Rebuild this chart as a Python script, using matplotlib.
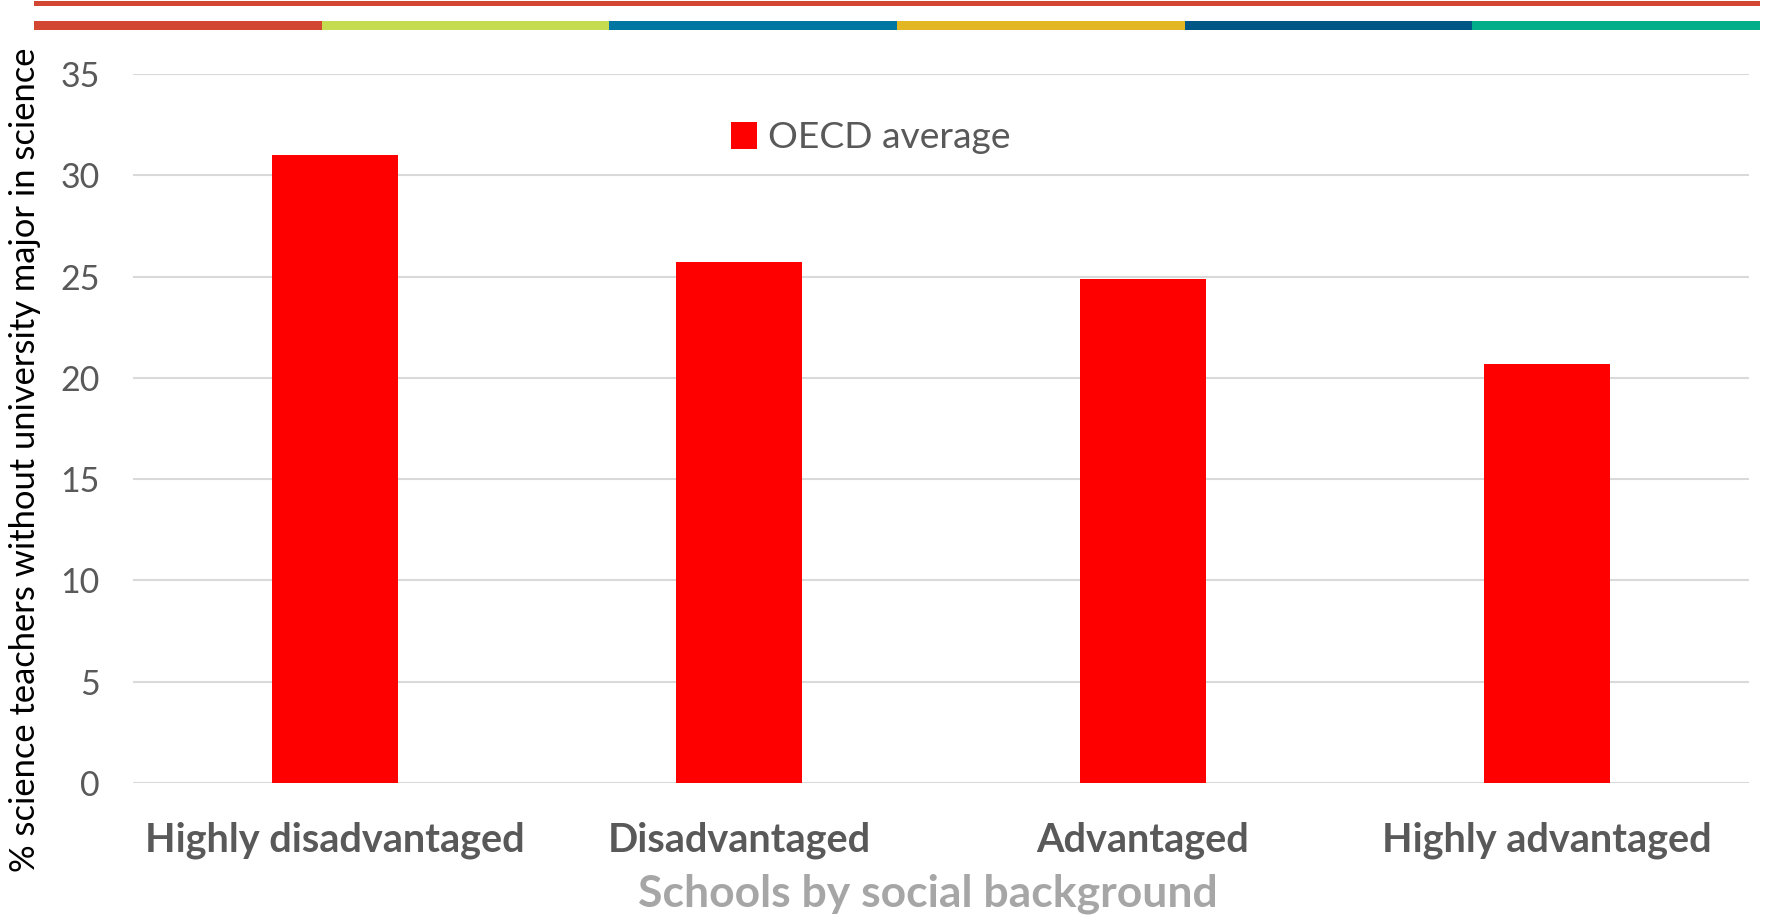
import matplotlib.pyplot as plt
from matplotlib.patches import Rectangle

categories = ['Highly disadvantaged', 'Disadvantaged', 'Advantaged', 'Highly advantaged']
oecd_average = [31.0, 25.7, 24.9, 20.7]
yticks = [0, 5, 10, 15, 20, 25, 30, 35]
strip_colors = ['#D34632', '#C5DB50', '#0077A3', '#E3B723', '#005685', '#00AE8A']

W, H = 1766, 919
plt.rcParams['font.family'] = ['Lato', 'DejaVu Sans']

fig = plt.figure(figsize=(W / 100, H / 100), dpi=100)
ax = fig.add_axes([133 / W, 1 - 783 / H, (1749 - 133) / W, (783 - 74) / H])

xs = range(len(categories))
ax.bar(xs, oecd_average, width=0.31, color='#FF0000', label='OECD average', zorder=3)

ax.set_xlim(-0.5, len(categories) - 0.5)
ax.set_ylim(0, 35)
ax.set_yticks(yticks)
ax.set_xticks(list(xs))
ax.set_xticklabels(categories, fontsize=28.5, fontweight='bold', color='#595959')
ax.tick_params(axis='y', length=0, pad=24, labelsize=24.5, labelcolor='#595959')
ax.tick_params(axis='x', length=0, pad=28)
ax.grid(axis='y', color='#D9D9D9', linewidth=1.5, zorder=0)
for s in ax.spines.values():
    s.set_visible(False)

ax.set_xlabel('Schools by social background', fontsize=32, fontweight='bold',
              color='#A6A6A6', labelpad=10)
ax.xaxis.label.set_x(0.492)

fig.text(25 / W, 1 - 460 / H, '% science teachers without university major in science',
         rotation=90, ha='center', va='center', fontsize=24.8, color='#000000')

leg = ax.legend(loc='center left', bbox_to_anchor=((731 - 133) / (1749 - 133), (783 - 138) / (783 - 74)),
                frameon=False, fontsize=26.8, handlelength=0.7, handleheight=0.7,
                handletextpad=0.3, borderpad=0, borderaxespad=0)
for t in leg.get_texts():
    t.set_color('#595959')

# coloured header bars
fig.patches.append(Rectangle((34 / W, 1 - 6 / H), (1760 - 34) / W, 5 / H,
                             transform=fig.transFigure, color=strip_colors[0], lw=0))
seg = (1760 - 34) / len(strip_colors)
for i, c in enumerate(strip_colors):
    fig.patches.append(Rectangle(((34 + i * seg) / W, 1 - 30 / H), seg / W, 9 / H,
                                 transform=fig.transFigure, color=c, lw=0))

fig.savefig('out.png', dpi=100)
